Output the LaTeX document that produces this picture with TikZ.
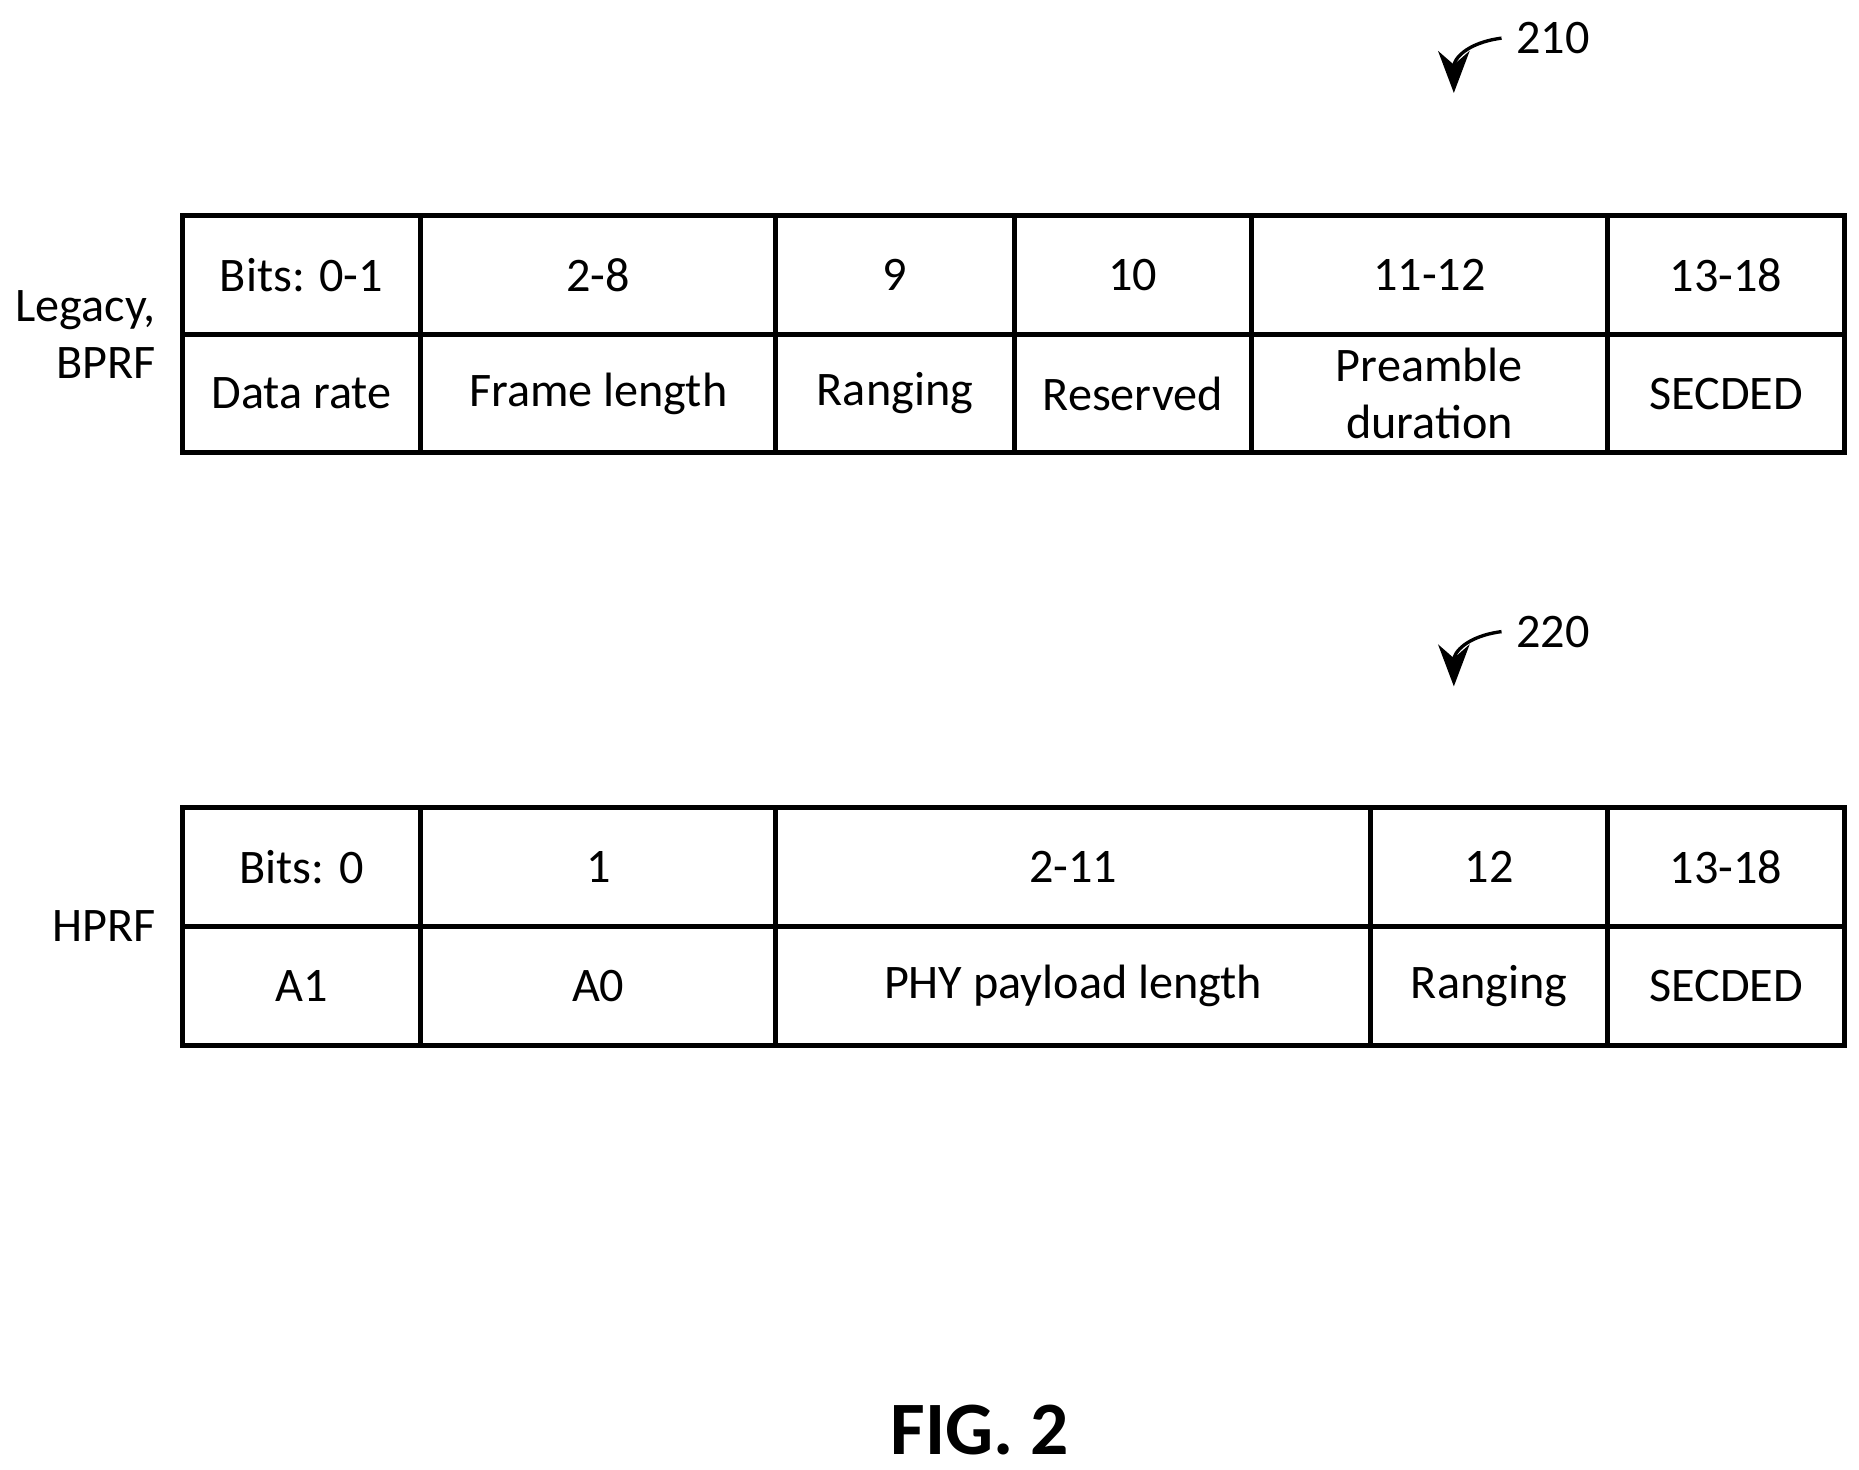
\documentclass[tikz,border=0pt]{standalone}
\usepackage{fontspec}
\setmainfont{Carlito}
\usetikzlibrary{arrows.meta}
\begin{document}
\begin{tikzpicture}[x=0.01cm, y=-0.01cm, font=\fontsize{11.5}{13.5}\selectfont]
\pgfmathsetmacro{\ya}{181} % top of table 210
\pgfmathsetmacro{\yb}{678} % top of table 220
\pgfmathsetmacro{\rh}{99.5} % row height
\useasboundingbox (0,0) rectangle (1560,1233);

% table 210
\draw[line width=1.2pt] (153,\ya) rectangle (1548,\ya+2*\rh);
\draw[line width=1.2pt] (153,\ya+\rh) -- (1548,\ya+\rh);
\foreach \x in {353,651,851,1050,1349}
 \draw[line width=1.2pt] (\x,\ya) -- (\x,\ya+2*\rh);
\foreach \x/\top/\bot [count=\i] in {253/{Bits: 0-1}/{Data rate}, 502/{2-8}/{Frame length}, 751/9/Ranging, 950.5/10/Reserved, 1199.5/{11-12}/{Preamble\\duration}, 1448.5/{13-18}/SECDED}
{
 \node (ta\i) at (\x,\ya+0.5*\rh) {\top};
 \node[align=center] (ba\i) at (\x,\ya+1.5*\rh) {\bot};
}
\node[align=right, anchor=east] (legacy) at (143,\ya+\rh) {Legacy,\\BPRF};

% table 220
\draw[line width=1.2pt] (153,\yb) rectangle (1548,\yb+2*\rh);
\draw[line width=1.2pt] (153,\yb+\rh) -- (1548,\yb+\rh);
\foreach \x in {353,651,1150,1349}
 \draw[line width=1.2pt] (\x,\yb) -- (\x,\yb+2*\rh);
\foreach \x/\top/\bot [count=\i] in {253/{Bits: 0}/A1, 502/1/A0, 900.5/{2-11}/{PHY payload length}, 1249.5/12/Ranging, 1448.5/{13-18}/SECDED}
{
 \node (tb\i) at (\x,\yb+0.5*\rh) {\top};
 \node (bb\i) at (\x,\yb+1.5*\rh) {\bot};
}
\node[anchor=east] (hprf) at (143,\yb+\rh) {HPRF};

% reference numerals
\node[anchor=west] (r210) at (1260,32) {210};
\draw[-{Stealth[length=10pt]}, line width=0.8pt] (r210.west) .. controls (1230,36) and (1220,50) .. (1220,78);
\node[anchor=west] (r220) at (1260,530) {220};
\draw[-{Stealth[length=10pt]}, line width=0.8pt] (r220.west) .. controls (1230,534) and (1220,548) .. (1220,576);

\node[font=\fontsize{18}{20}\selectfont\bfseries] (fig) at (822,1200) {FIG. 2};
\end{tikzpicture}
\end{document}
